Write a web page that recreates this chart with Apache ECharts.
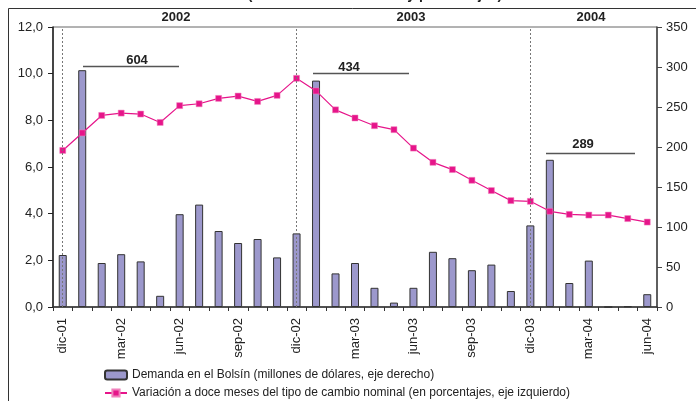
<!DOCTYPE html>
<html>
<head>
<meta charset="utf-8">
<script src="https://cdn.jsdelivr.net/npm/echarts@6/dist/echarts.min.js"></script>
<style>html,body{margin:0;padding:0;background:#fff;}#c{width:696px;height:401px;}</style>
</head>
<body>
<div id="c"></div>
<script>
var months = ['dic-01','ene-02','feb-02','mar-02','abr-02','may-02','jun-02','jul-02','ago-02','sep-02','oct-02','nov-02',
  'dic-02','ene-03','feb-03','mar-03','abr-03','may-03','jun-03','jul-03','ago-03','sep-03','oct-03','nov-03',
  'dic-03','ene-04','feb-04','mar-04','abr-04','may-04','jun-04'];
var demanda = [65,296,55,66,57,14,116,128,95,80,85,62,92,
  283,42,55,24,5.5,24,69,61,46,53,20,102,
  184,30,58,0,0.8,16];
var variacion = [6.71,7.46,8.21,8.31,8.27,7.91,8.63,8.71,8.94,9.04,8.81,9.07,9.80,
  9.26,8.45,8.10,7.77,7.60,6.81,6.20,5.89,5.43,4.99,4.56,4.53,
  4.10,3.97,3.94,3.94,3.79,3.64];
var yearMarks = ['dic-01','dic-02','dic-03'];
var years = ['2002','2003','2004'];
var halfTotals = ['604','434','289'];
var leftTicks = {min:0, max:12, interval:2};
var rightTicks = {min:0, max:350, interval:50};
var barName = 'Demanda en el Bolsín (millones de dólares, eje derecho)';
var lineName = 'Variación a doce meses del tipo de cambio nominal (en porcentajes, eje izquierdo)';

var chart = echarts.init(document.getElementById('c'), null, {renderer:'canvas'});
var FONT = 'Liberation Sans, Arial, sans-serif';
var legendText = {fontFamily:FONT, fontSize:12, color:'#222'};
var option = {
  animation: false,
  grid: {left:53, right:39, top:27, bottom:94, show:true, borderColor:'#666', borderWidth:1},
  legend: [
    {left:104, top:369, padding:0, itemWidth:22, itemHeight:9, textStyle:legendText, data:[barName]},
    {left:104, top:387, padding:0, itemWidth:22, itemHeight:9, textStyle:legendText, data:[lineName]}
  ],
  xAxis: {
    type:'category', data:months, boundaryGap:true,
    axisLine:{lineStyle:{color:'#333', width:1.5}},
    axisTick:{show:true, interval:0, length:4, lineStyle:{color:'#333'}},
    axisLabel:{interval:2, rotate:90, fontFamily:FONT, fontSize:13, color:'#222', margin:11}
  },
  yAxis: [
    {type:'value', min:leftTicks.min, max:leftTicks.max, interval:leftTicks.interval, position:'left',
     splitLine:{show:false},
     axisLine:{show:true, lineStyle:{color:'#222', width:1.5}},
     axisTick:{show:true, length:5, lineStyle:{color:'#222'}},
     axisLabel:{fontFamily:FONT, fontSize:13, color:'#222', margin:10,
       formatter:function(v){return v.toFixed(1).replace('.',',');}}},
    {type:'value', min:rightTicks.min, max:rightTicks.max, interval:rightTicks.interval, position:'right',
     splitLine:{show:false},
     axisLine:{show:true, lineStyle:{color:'#444', width:1.5}},
     axisTick:{show:true, length:5, lineStyle:{color:'#444'}},
     axisLabel:{fontFamily:FONT, fontSize:13, color:'#222', margin:9}}
  ],
  series: [
    {name:barName, type:'bar', yAxisIndex:1, data:demanda,
     barWidth:8,
     itemStyle:{color:'#9c98cc', borderColor:'#333', borderWidth:1},
     markLine:{silent:true, symbol:['none','none'], label:{show:false}, z:10,
       lineStyle:{type:[2,2], color:'#777', width:1},
       data: yearMarks.map(function(m){return {xAxis:m};})}
    },
    {name:lineName, type:'line', yAxisIndex:0,
     data:variacion, symbol:'rect', symbolSize:6, z:5,
     lineStyle:{color:'#e6158a', width:1.2},
     itemStyle:{color:'#e6158a', borderColor:'#f080bc', borderWidth:0.5}}
  ],
  graphic: [
    {type:'rect', silent:true, shape:{x:8.5, y:8.5, width:720, height:420}, style:{fill:'none', stroke:'#333', lineWidth:1}},
    {type:'text', silent:true, x:375, y:-5, style:{text:'(en millones de dólares y porcentajes)', font:'bold 14px '+FONT, fill:'#222', align:'center', verticalAlign:'middle'}},
    {type:'text', silent:true, x:176, y:17, style:{text:years[0], font:'bold 13px '+FONT, fill:'#222', align:'center', verticalAlign:'middle'}},
    {type:'text', silent:true, x:411, y:17, style:{text:years[1], font:'bold 13px '+FONT, fill:'#222', align:'center', verticalAlign:'middle'}},
    {type:'text', silent:true, x:591, y:17, style:{text:years[2], font:'bold 13px '+FONT, fill:'#222', align:'center', verticalAlign:'middle'}},
    {type:'line', silent:true, shape:{x1:83, y1:66.5, x2:179, y2:66.5}, style:{stroke:'#555', lineWidth:1.5}},
    {type:'text', silent:true, x:137, y:60, style:{text:halfTotals[0], font:'bold 13px '+FONT, fill:'#222', align:'center', verticalAlign:'middle'}},
    {type:'line', silent:true, shape:{x1:313, y1:73.5, x2:409, y2:73.5}, style:{stroke:'#555', lineWidth:1.5}},
    {type:'text', silent:true, x:349, y:67, style:{text:halfTotals[1], font:'bold 13px '+FONT, fill:'#222', align:'center', verticalAlign:'middle'}},
    {type:'line', silent:true, shape:{x1:546, y1:153.5, x2:635, y2:153.5}, style:{stroke:'#555', lineWidth:1.5}},
    {type:'text', silent:true, x:583, y:144, style:{text:halfTotals[2], font:'bold 13px '+FONT, fill:'#222', align:'center', verticalAlign:'middle'}}
  ]
};
chart.setOption(option);
</script>
</body>
</html>
